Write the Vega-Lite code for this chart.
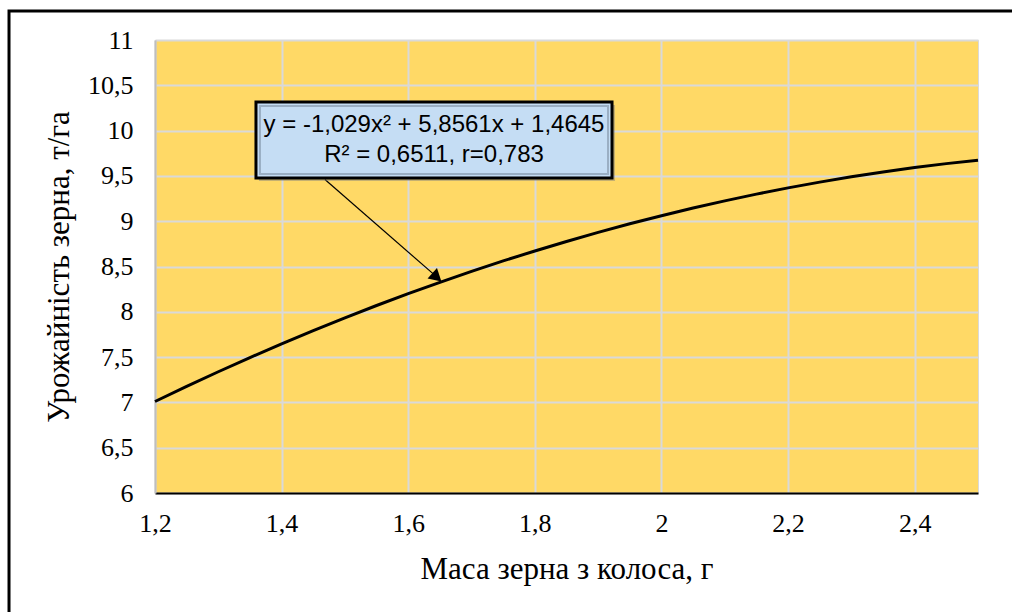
{
  "$schema": "https://vega.github.io/schema/vega-lite/v6.json",
  "width": 823,
  "height": 453,
  "autosize": {"type": "none"},
  "padding": {"left": 155, "top": 40, "right": 34, "bottom": 119},
  "background": "white",
  "config": {
    "view": {"fill": "#FFD966", "stroke": "#D9D9D9", "strokeWidth": 1},
    "font": "Liberation Serif",
    "axis": {"labelFont": "Liberation Serif", "titleFont": "Liberation Serif", "labelFontSize": 26, "titleFontSize": 31}
  },
  "datasets": {
    "curve": [
      {"x": 1.20, "y": 7.0101}, {"x": 1.25, "y": 7.1768}, {"x": 1.30, "y": 7.3384},
      {"x": 1.35, "y": 7.4949}, {"x": 1.40, "y": 7.6462}, {"x": 1.45, "y": 7.7924},
      {"x": 1.50, "y": 7.9334}, {"x": 1.55, "y": 8.0693}, {"x": 1.60, "y": 8.2000},
      {"x": 1.65, "y": 8.3256}, {"x": 1.70, "y": 8.4461}, {"x": 1.75, "y": 8.5614},
      {"x": 1.80, "y": 8.6715}, {"x": 1.85, "y": 8.7765}, {"x": 1.90, "y": 8.8764},
      {"x": 1.95, "y": 8.9711}, {"x": 2.00, "y": 9.0607}, {"x": 2.05, "y": 9.1451},
      {"x": 2.10, "y": 9.2244}, {"x": 2.15, "y": 9.2986}, {"x": 2.20, "y": 9.3676},
      {"x": 2.25, "y": 9.4314}, {"x": 2.30, "y": 9.4901}, {"x": 2.35, "y": 9.5437},
      {"x": 2.40, "y": 9.5921}, {"x": 2.45, "y": 9.6354}, {"x": 2.50, "y": 9.6735}
    ],
    "frame": [{"x": 0.9694, "x2": 2.62, "y": 11.32, "y2": 4.4}],
    "box": [{"x": 1.3595, "x2": 1.9219, "y": 10.316, "y2": 9.477}],
    "labels": [
      {"x": 1.6407, "y": 10.062, "t": "y = -1,029x² + 5,8561x + 1,4645"},
      {"x": 1.6407, "y": 9.731, "t": "R² = 0,6511, r=0,783"}
    ],
    "arrow": [{"x": 1.4685, "y": 9.46, "x2": 1.6450, "y2": 8.385}],
    "head": [{"x": 1.6428, "y": 8.395}]
  },
  "layer": [
    {
      "data": {"name": "curve"},
      "mark": {"type": "line", "color": "black", "strokeWidth": 3},
      "encoding": {
        "x": {
          "field": "x", "type": "quantitative",
          "scale": {"domain": [1.2, 2.5], "nice": false, "zero": false},
          "axis": {
            "values": [1.2, 1.4, 1.6, 1.8, 2.0, 2.2, 2.4],
            "labelExpr": "replace(format(datum.value, ''), '.', ',')",
            "labelFlush": false,
            "title": "Маса зерна з колоса, г",
            "titleFont": "Liberation Serif", "titleFontSize": 31, "titleFontWeight": "normal", "titleColor": "#000000",
            "titlePadding": 18,
            "labelFont": "Liberation Serif", "labelFontSize": 26, "labelColor": "#000000", "labelPadding": 17,
            "ticks": false,
            "domainColor": "#000000", "domainWidth": 2,
            "grid": true, "gridColor": "#D9D9D9", "gridWidth": 2
          }
        },
        "y": {
          "field": "y", "type": "quantitative",
          "scale": {"domain": [6, 11], "nice": false, "zero": false},
          "axis": {
            "values": [6, 6.5, 7, 7.5, 8, 8.5, 9, 9.5, 10, 10.5, 11],
            "labelExpr": "replace(format(datum.value, ''), '.', ',')",
            "labelFlush": false,
            "title": "Урожайність зерна, т/га",
            "titleFont": "Liberation Serif", "titleFontSize": 31, "titleFontWeight": "normal", "titleColor": "#000000",
            "titlePadding": 12,
            "labelFont": "Liberation Serif", "labelFontSize": 26, "labelColor": "#000000", "labelPadding": 22,
            "ticks": false,
            "domainColor": "#BFBFBF", "domainWidth": 2,
            "grid": true, "gridColor": "#D9D9D9", "gridWidth": 2
          }
        }
      }
    },
    {
      "data": {"name": "frame"},
      "mark": {"type": "rect", "fill": null, "fillOpacity": 0, "stroke": "black", "strokeWidth": 3},
      "encoding": {
        "x": {"field": "x", "type": "quantitative"},
        "x2": {"field": "x2"},
        "y": {"field": "y", "type": "quantitative"},
        "y2": {"field": "y2"}
      }
    },
    {
      "data": {"name": "arrow"},
      "mark": {"type": "rule", "color": "black", "strokeWidth": 1.2},
      "encoding": {
        "x": {"field": "x", "type": "quantitative"},
        "x2": {"field": "x2"},
        "y": {"field": "y", "type": "quantitative"},
        "y2": {"field": "y2"}
      }
    },
    {
      "data": {"name": "head"},
      "mark": {"type": "point", "shape": "triangle", "filled": true, "color": "black", "size": 200, "angle": 131.6, "opacity": 1},
      "encoding": {
        "x": {"field": "x", "type": "quantitative"},
        "y": {"field": "y", "type": "quantitative"}
      }
    },
    {
      "data": {"name": "box"},
      "mark": {"type": "rect", "fill": "#7F7F7F", "opacity": 0.45, "xOffset": 3, "yOffset": 3, "x2Offset": 3, "y2Offset": 3},
      "encoding": {
        "x": {"field": "x", "type": "quantitative"},
        "x2": {"field": "x2"},
        "y": {"field": "y", "type": "quantitative"},
        "y2": {"field": "y2"}
      }
    },
    {
      "data": {"name": "box"},
      "mark": {"type": "rect", "fill": "#C5DDF4", "stroke": "black", "strokeWidth": 3},
      "encoding": {
        "x": {"field": "x", "type": "quantitative"},
        "x2": {"field": "x2"},
        "y": {"field": "y", "type": "quantitative"},
        "y2": {"field": "y2"}
      }
    },
    {
      "data": {"name": "box"},
      "mark": {"type": "rect", "fill": null, "fillOpacity": 0, "stroke": "#9AAFC4", "strokeWidth": 2, "xOffset": 4, "yOffset": 4, "x2Offset": -4, "y2Offset": -4},
      "encoding": {
        "x": {"field": "x", "type": "quantitative"},
        "x2": {"field": "x2"},
        "y": {"field": "y", "type": "quantitative"},
        "y2": {"field": "y2"}
      }
    },
    {
      "data": {"name": "labels"},
      "mark": {"type": "text", "font": "Liberation Sans", "fontSize": 24, "color": "#000000", "align": "center", "baseline": "middle"},
      "encoding": {
        "x": {"field": "x", "type": "quantitative"},
        "y": {"field": "y", "type": "quantitative"},
        "text": {"field": "t"}
      }
    }
  ]
}
